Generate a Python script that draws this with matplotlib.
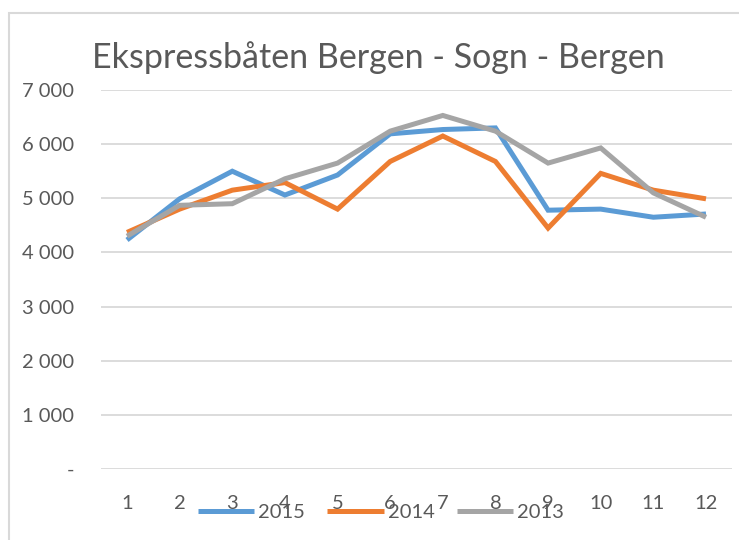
import matplotlib
matplotlib.use("Agg")
import matplotlib.pyplot as plt
from matplotlib.patches import Rectangle
from matplotlib.ticker import FuncFormatter

months = [1, 2, 3, 4, 5, 6, 7, 8, 9, 10, 11, 12]
series_names = ["2015", "2014", "2013"]
v2015 = [4230, 4990, 5500, 5060, 5430, 6190, 6270, 6300, 4780, 4800, 4650, 4710]
v2014 = [4370, 4800, 5150, 5290, 4800, 5680, 6150, 5680, 4450, 5460, 5150, 4990]
v2013 = [4300, 4870, 4900, 5360, 5650, 6240, 6530, 6240, 5650, 5930, 5100, 4650]
yticks = [0, 1000, 2000, 3000, 4000, 5000, 6000, 7000]
title = "Ekspressbåten Bergen - Sogn - Bergen"

colors = ["#5B9BD5", "#ED7D31", "#A5A5A5"]
text_color = "#595959"
plt.rcParams['font.family'] = ['Lato', 'DejaVu Sans']

W, H = 739, 540
fig = plt.figure(figsize=(W / 100, H / 100), dpi=100)
fig.patch.set_facecolor("white")

# chart frame
fig.add_artist(Rectangle((9 / W, -0.05), 1.0, (540 - 13) / H + 0.05,
                         transform=fig.transFigure, fill=False,
                         edgecolor="#D9D9D9", linewidth=1.5))

ax = fig.add_axes([100.7 / W, 71 / H, (732.3 - 100.7) / W, (469 - 90) / H])
for vals, name, c in zip([v2015, v2014, v2013], series_names, colors):
    ax.plot(months, vals, color=c, linewidth=3.6, label=name,
            solid_joinstyle="miter", solid_capstyle="butt")

ax.set_xlim(0.5, 12.5)
ax.set_ylim(0, 7000)
ax.set_yticks(yticks)
ax.set_xticks(months)
ax.yaxis.set_major_formatter(FuncFormatter(
    lambda v, p: "-" if v == 0 else f"{int(v):,}".replace(",", " ")))
ax.grid(axis="y", color="#D9D9D9", linewidth=1.3)
ax.set_axisbelow(True)
for s in ax.spines.values():
    s.set_visible(False)
ax.tick_params(axis="both", length=0, colors=text_color, labelsize=14.5)
ax.tick_params(axis="y", pad=19)
ax.tick_params(axis="x", pad=19)

fig.text(378 / W, (540 - 58) / H, title, ha="center", va="center",
         fontsize=24.5, color=text_color)

leg = fig.legend(loc="center", bbox_to_anchor=(381 / W, (540 - 512) / H),
                 ncol=3, frameon=False, fontsize=14.5, handlelength=2.8,
                 handletextpad=0.2, columnspacing=1.1, borderpad=0)
for t in leg.get_texts():
    t.set_color(text_color)

fig.savefig("out.png", dpi=100, facecolor="white")
